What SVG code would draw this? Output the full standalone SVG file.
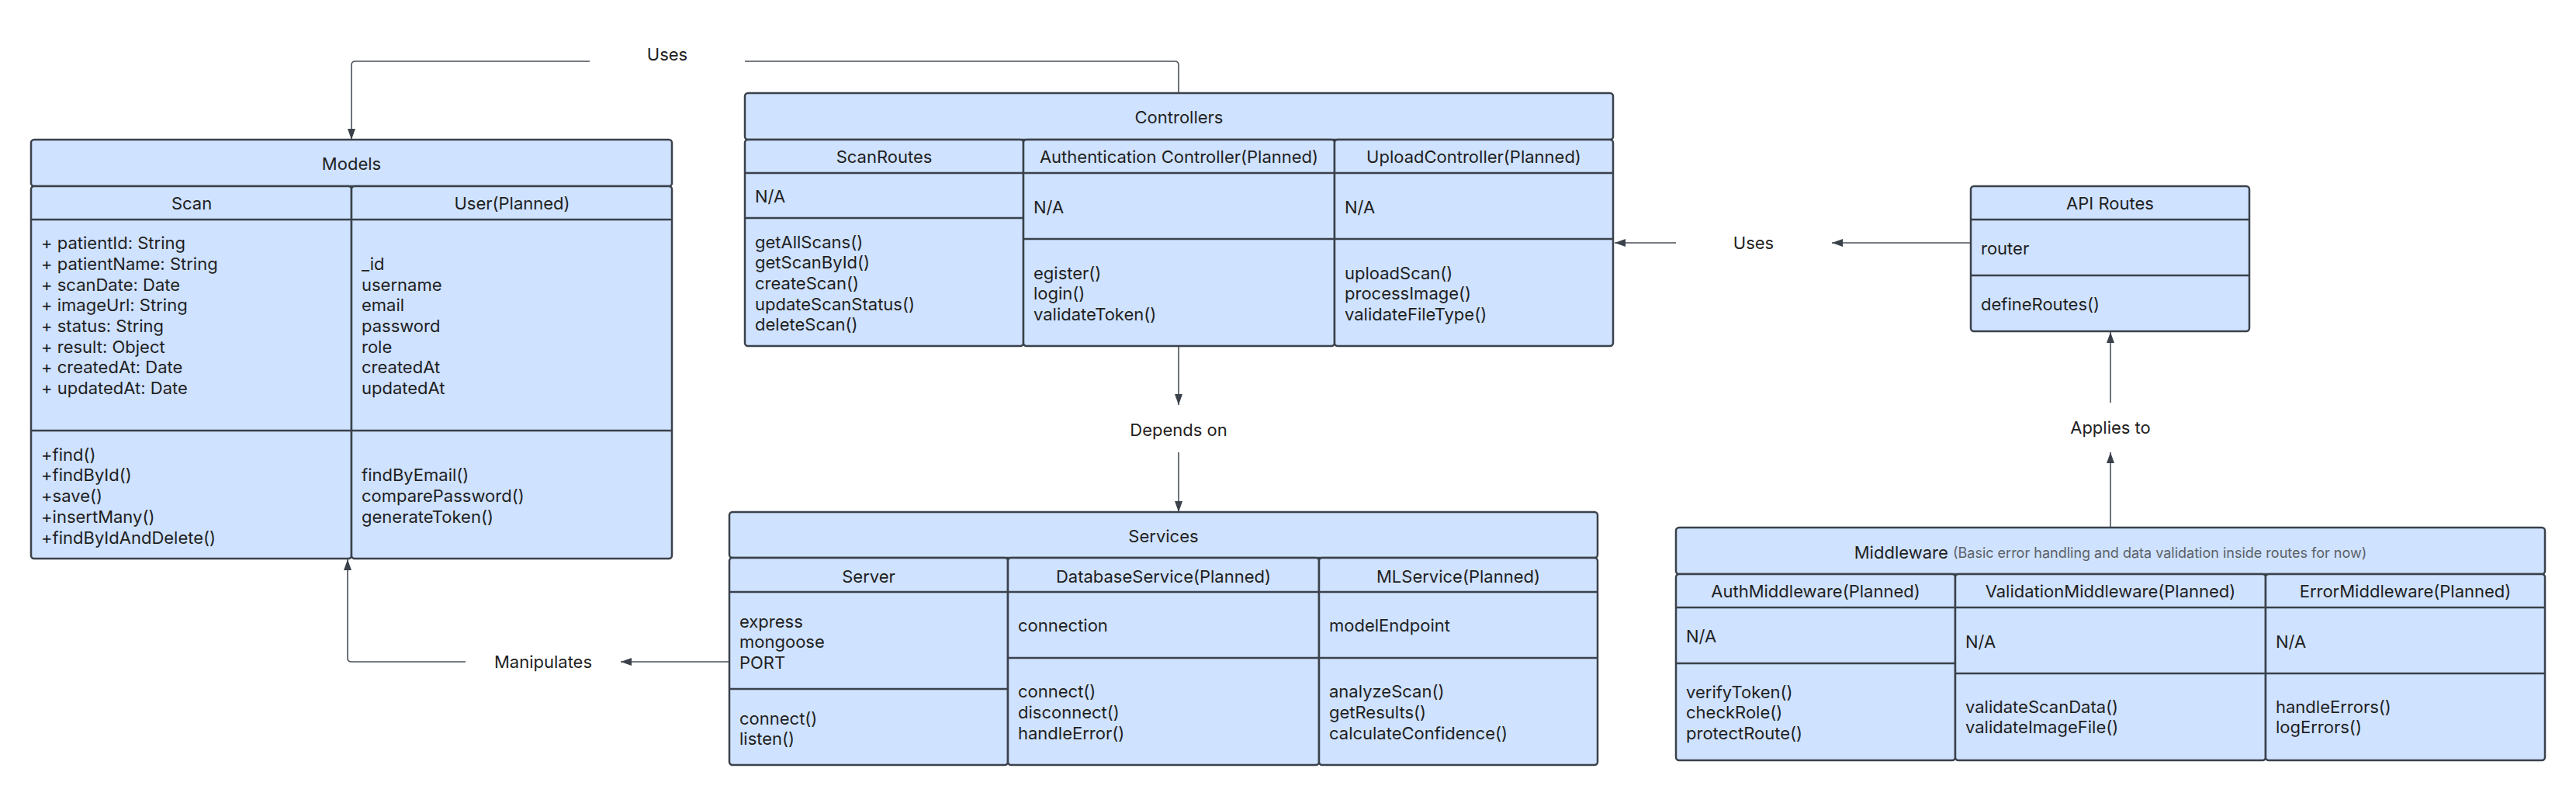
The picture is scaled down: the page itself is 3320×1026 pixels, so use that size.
<svg xmlns="http://www.w3.org/2000/svg" width="3320" height="1026" viewBox="0 0 3320 1026">
<style>
.bg{fill:#ffffff}
.box{fill:#cfe2ff;stroke:#3a414a;stroke-width:2.5}
.sep{stroke:#3a414a;stroke-width:2.5;fill:none}
.t{font-family:Inter,"Liberation Sans",sans-serif;font-size:22px;fill:#1f1f1f;dominant-baseline:central}
.c{text-anchor:middle}
.note{font-size:18px;fill:#5c6168}
.conn{stroke:#4a5059;stroke-width:1.6;fill:none}
</style>
<defs>
<marker id="arr" viewBox="0 0 14 10" refX="14" refY="5" markerWidth="14" markerHeight="10" markerUnits="userSpaceOnUse" orient="auto">
<path d="M0,0 L14,5 L0,10 Z" fill="#3a414a"/>
</marker>
</defs>
<rect class="bg" x="0" y="0" width="3320" height="1026"/>

<g id="connectors">
<!-- Uses (Controllers -> Models) -->
<path class="conn" d="M1519,120 V84 Q1519,79 1514,79 H960"/>
<path class="conn" d="M760,79 H458 Q453,79 453,84 V180" marker-end="url(#arr)"/>
<text class="t c" x="860" y="70">Uses</text>
<!-- Depends on -->
<path class="conn" d="M1519,446 V522" marker-end="url(#arr)"/>
<path class="conn" d="M1519,583 V660" marker-end="url(#arr)"/>
<text class="t c" x="1519" y="554">Depends on</text>
<!-- Manipulates -->
<path class="conn" d="M940,853 H800" marker-end="url(#arr)"/>
<path class="conn" d="M600,853 H453 Q448,853 448,848 V721" marker-end="url(#arr)"/>
<text class="t c" x="700" y="853">Manipulates</text>
<!-- Uses (API Routes -> Controllers) -->
<path class="conn" d="M2540,313 H2361" marker-end="url(#arr)"/>
<path class="conn" d="M2160,313 H2081" marker-end="url(#arr)"/>
<text class="t c" x="2260" y="313">Uses</text>
<!-- Applies to -->
<path class="conn" d="M2720,680 V583" marker-end="url(#arr)"/>
<path class="conn" d="M2720,519 V428" marker-end="url(#arr)"/>
<text class="t c" x="2720" y="551">Applies to</text>
</g>

<g id="models">
<rect class="box" x="40" y="180" width="826" height="60" rx="4"/>
<text class="t c" x="453" y="211">Models</text>
<rect class="box" x="40" y="240" width="413" height="480" rx="4"/>
<rect class="box" x="453" y="240" width="413" height="480" rx="4"/>
<line class="sep" x1="40" y1="283" x2="866" y2="283"/>
<line class="sep" x1="40" y1="555" x2="866" y2="555"/>
<text class="t c" x="247" y="262">Scan</text>
<text class="t c" x="660" y="262">User(Planned)</text>
<text class="t" x="53" y="313">+ patientId: String</text>
<text class="t" x="53" y="340">+ patientName: String</text>
<text class="t" x="53" y="367">+ scanDate: Date</text>
<text class="t" x="53" y="393">+ imageUrl: String</text>
<text class="t" x="53" y="420">+ status: String</text>
<text class="t" x="53" y="447">+ result: Object</text>
<text class="t" x="53" y="473">+ createdAt: Date</text>
<text class="t" x="53" y="500">+ updatedAt: Date</text>
<text class="t" x="466" y="340">_id</text>
<text class="t" x="466" y="367">username</text>
<text class="t" x="466" y="393">email</text>
<text class="t" x="466" y="420">password</text>
<text class="t" x="466" y="447">role</text>
<text class="t" x="466" y="473">createdAt</text>
<text class="t" x="466" y="500">updatedAt</text>
<text class="t" x="53" y="586">+find()</text>
<text class="t" x="53" y="612">+findById()</text>
<text class="t" x="53" y="639">+save()</text>
<text class="t" x="53" y="666">+insertMany()</text>
<text class="t" x="53" y="693">+findByIdAndDelete()</text>
<text class="t" x="466" y="612">findByEmail()</text>
<text class="t" x="466" y="639">comparePassword()</text>
<text class="t" x="466" y="666">generateToken()</text>
</g>

<g id="controllers">
<rect class="box" x="960" y="120" width="1119" height="60" rx="4"/>
<text class="t c" x="1519.5" y="151">Controllers</text>
<rect class="box" x="960" y="180" width="359" height="266" rx="4"/>
<rect class="box" x="1319" y="180" width="401" height="266" rx="4"/>
<rect class="box" x="1720" y="180" width="359" height="266" rx="4"/>
<line class="sep" x1="960" y1="223" x2="2079" y2="223"/>
<line class="sep" x1="960" y1="281" x2="1319" y2="281"/>
<line class="sep" x1="1319" y1="308" x2="2079" y2="308"/>
<text class="t c" x="1139.5" y="202">ScanRoutes</text>
<text class="t c" x="1519.5" y="202">Authentication Controller(Planned)</text>
<text class="t c" x="1899.5" y="202">UploadController(Planned)</text>
<text class="t" x="973" y="253">N/A</text>
<text class="t" x="973" y="312">getAllScans()</text>
<text class="t" x="973" y="338">getScanById()</text>
<text class="t" x="973" y="365">createScan()</text>
<text class="t" x="973" y="392">updateScanStatus()</text>
<text class="t" x="973" y="418">deleteScan()</text>
<text class="t" x="1332" y="267">N/A</text>
<text class="t" x="1332" y="352">egister()</text>
<text class="t" x="1332" y="378">login()</text>
<text class="t" x="1332" y="405">validateToken()</text>
<text class="t" x="1733" y="267">N/A</text>
<text class="t" x="1733" y="352">uploadScan()</text>
<text class="t" x="1733" y="378">processImage()</text>
<text class="t" x="1733" y="405">validateFileType()</text>
</g>

<g id="services">
<rect class="box" x="940" y="660" width="1119" height="59" rx="4"/>
<text class="t c" x="1499.5" y="691">Services</text>
<rect class="box" x="940" y="719" width="359" height="267" rx="4"/>
<rect class="box" x="1299" y="719" width="401" height="267" rx="4"/>
<rect class="box" x="1700" y="719" width="359" height="267" rx="4"/>
<line class="sep" x1="940" y1="763" x2="2059" y2="763"/>
<line class="sep" x1="940" y1="888" x2="1299" y2="888"/>
<line class="sep" x1="1299" y1="848" x2="2059" y2="848"/>
<text class="t c" x="1119.5" y="743">Server</text>
<text class="t c" x="1499.5" y="743">DatabaseService(Planned)</text>
<text class="t c" x="1879.5" y="743">MLService(Planned)</text>
<text class="t" x="953" y="801">express</text>
<text class="t" x="953" y="827">mongoose</text>
<text class="t" x="953" y="854">PORT</text>
<text class="t" x="953" y="926">connect()</text>
<text class="t" x="953" y="952">listen()</text>
<text class="t" x="1312" y="806">connection</text>
<text class="t" x="1312" y="891">connect()</text>
<text class="t" x="1312" y="918">disconnect()</text>
<text class="t" x="1312" y="945">handleError()</text>
<text class="t" x="1713" y="806">modelEndpoint</text>
<text class="t" x="1713" y="891">analyzeScan()</text>
<text class="t" x="1713" y="918">getResults()</text>
<text class="t" x="1713" y="945">calculateConfidence()</text>
</g>

<g id="api-routes">
<rect class="box" x="2540" y="240" width="359" height="187" rx="4"/>
<line class="sep" x1="2540" y1="283" x2="2899" y2="283"/>
<line class="sep" x1="2540" y1="355" x2="2899" y2="355"/>
<text class="t c" x="2719.5" y="262">API Routes</text>
<text class="t" x="2553" y="320">router</text>
<text class="t" x="2553" y="392">defineRoutes()</text>
</g>

<g id="middleware">
<rect class="box" x="2160" y="680" width="1120" height="60" rx="4"/>
<text class="t c" x="2720" y="712">Middleware <tspan class="note">(Basic error handling and data validation inside routes for now)</tspan></text>
<rect class="box" x="2160" y="740" width="360" height="240" rx="4"/>
<rect class="box" x="2520" y="740" width="400" height="240" rx="4"/>
<rect class="box" x="2920" y="740" width="360" height="240" rx="4"/>
<line class="sep" x1="2160" y1="783" x2="3280" y2="783"/>
<line class="sep" x1="2160" y1="855" x2="2520" y2="855"/>
<line class="sep" x1="2520" y1="868" x2="3280" y2="868"/>
<text class="t c" x="2340" y="762">AuthMiddleware(Planned)</text>
<text class="t c" x="2720" y="762">ValidationMiddleware(Planned)</text>
<text class="t c" x="3100" y="762">ErrorMiddleware(Planned)</text>
<text class="t" x="2173" y="820">N/A</text>
<text class="t" x="2173" y="892">verifyToken()</text>
<text class="t" x="2173" y="918">checkRole()</text>
<text class="t" x="2173" y="945">protectRoute()</text>
<text class="t" x="2533" y="827">N/A</text>
<text class="t" x="2533" y="911">validateScanData()</text>
<text class="t" x="2533" y="937">validateImageFile()</text>
<text class="t" x="2933" y="827">N/A</text>
<text class="t" x="2933" y="911">handleErrors()</text>
<text class="t" x="2933" y="937">logErrors()</text>
</g>
</svg>
